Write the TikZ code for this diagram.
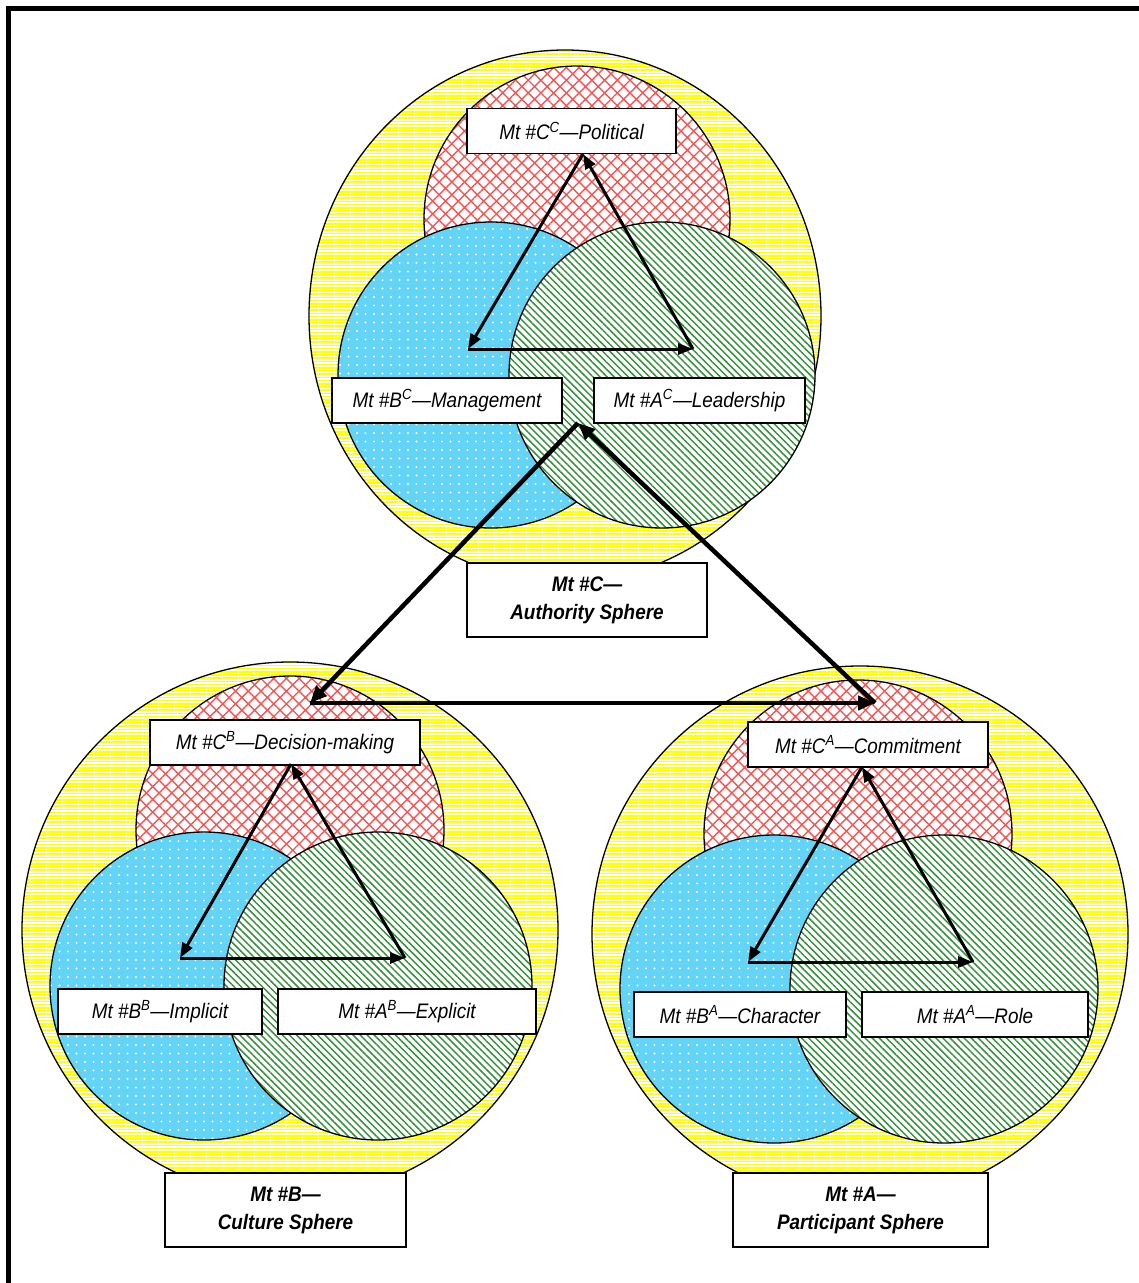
\documentclass[tikz,border=0pt]{standalone}
\usepackage{fontspec}
\setmainfont{Liberation Sans}[FakeStretch=0.9]
\usetikzlibrary{patterns.meta,arrows.meta}
\definecolor{hatchred}{RGB}{245,85,85}
\definecolor{skyfill}{RGB}{100,212,246}
\definecolor{stripegreen}{RGB}{55,145,60}
\definecolor{lineyellow}{RGB}{255,255,0}

\tikzset{
  yellowdisc/.style={draw=black, line width=1.3pt,
    preaction={fill=white},
    preaction={pattern={Lines[angle=0,distance=3.2pt,line width=1.6pt]}, pattern color=lineyellow}},
  reddisc/.style={draw=black, line width=1.3pt,
    preaction={fill=white},
    preaction={pattern={Hatch[angle=45,distance=9pt,line width=1.4pt]}, pattern color=hatchred}},
  bluedisc/.style={draw=black, line width=1.3pt,
    preaction={fill=skyfill},
    preaction={pattern={Dots[radius=1.1pt,distance=8.5pt]}, pattern color=white}},
  greendisc/.style={draw=black, line width=1.3pt,
    preaction={fill=white},
    preaction={pattern={Lines[angle=-45,distance=5pt,line width=1.5pt]}, pattern color=stripegreen}},
  lab/.style={draw, line width=1.3pt, fill=white, inner sep=0pt, minimum height=45pt,
    font=\fontsize{21}{25}\selectfont\itshape},
  spherelab/.style={draw, line width=1.3pt, fill=white, inner sep=0pt, minimum height=74pt,
    align=center, font=\fontsize{21}{28}\selectfont\bfseries\itshape},
  innerarrow/.style={line width=3pt, -{Triangle[length=15pt,width=11pt]}},
  outerarrow/.style={line width=4.5pt, -{Triangle[length=17pt,width=14pt]}},
}

\begin{document}
\begin{tikzpicture}[x=1pt,y=-1pt]
\useasboundingbox (0,0) rectangle (1139,1283);

% page frame (top and left edges)
\draw[line width=5pt, line join=miter] (8.5,1283) -- (8.5,8.5) -- (1139,8.5);

% ---- Mt #C : Authority sphere ----
\path[yellowdisc] (565,316) ellipse[x radius=256, y radius=266];
\path[reddisc]    (577,219) circle[radius=153];
\path[bluedisc]   (491,375) circle[radius=153];
\path[greendisc]  (662,375) circle[radius=153];

% ---- Mt #B : Culture sphere ----
\path[yellowdisc] (290,930) circle[radius=268];
\path[reddisc]    (290,830) circle[radius=154];
\path[bluedisc]   (204,986) circle[radius=154];
\path[greendisc]  (378,986) circle[radius=154];

% ---- Mt #A : Participant sphere ----
\path[yellowdisc] (860,934) circle[radius=268];
\path[reddisc]    (858,834) circle[radius=154];
\path[bluedisc]   (774,989) circle[radius=154];
\path[greendisc]  (944,989) circle[radius=154];

% labels
\node[lab, minimum width=209pt] (pol)  at (571.5,131)   {Mt \#C\textsuperscript{C}\textemdash Political};
\node[lab, minimum width=230pt] (mgmt) at (447,400.5)   {Mt \#B\textsuperscript{C}\textemdash Management};
\node[lab, minimum width=211pt] (lead) at (699.5,400.5) {Mt \#A\textsuperscript{C}\textemdash Leadership};
\node[spherelab, minimum width=240pt] (auth) at (587,600) {Mt \#C\textemdash\\Authority Sphere};

\node[lab, minimum width=270pt] (dec)  at (285,742.5)   {Mt \#C\textsuperscript{B}\textemdash Decision-making};
\node[lab, minimum width=204pt] (impl) at (160,1011.5)  {Mt \#B\textsuperscript{B}\textemdash Implicit};
\node[lab, minimum width=258pt] (expl) at (407,1011.5)  {Mt \#A\textsuperscript{B}\textemdash Explicit};
\node[spherelab, minimum width=241pt] (cult) at (285.5,1210) {Mt \#B\textemdash\\Culture Sphere};

\node[lab, minimum width=240pt] (comm) at (868,744.5)   {Mt \#C\textsuperscript{A}\textemdash Commitment};
\node[lab, minimum width=212pt] (char) at (740,1014.5)  {Mt \#B\textsuperscript{A}\textemdash Character};
\node[lab, minimum width=226pt] (role) at (975,1014.5)  {Mt \#A\textsuperscript{A}\textemdash Role};
\node[spherelab, minimum width=255pt] (part) at (860.5,1210) {Mt \#A\textemdash\\Participant Sphere};

% triangle corners
\coordinate (cT) at (583,154);
\coordinate (cL) at (468,349);
\coordinate (cR) at (693,349);
\coordinate (bT) at (291,764);
\coordinate (bL) at (180,958);
\coordinate (bR) at (405,958);
\coordinate (aT) at (862,767);
\coordinate (aL) at (748,962);
\coordinate (aR) at (973,962);
\coordinate (oT) at (578,423);
\coordinate (oL) at (310,703);
\coordinate (oR) at (875,703);

% inner cycles
\draw[innerarrow] (cT) -- (cL);
\draw[innerarrow] (cL) -- (cR);
\draw[innerarrow] (cR) -- (cT);
\draw[innerarrow] (bT) -- (bL);
\draw[innerarrow] (bL) -- (bR);
\draw[innerarrow] (bR) -- (bT);
\draw[innerarrow] (aT) -- (aL);
\draw[innerarrow] (aL) -- (aR);
\draw[innerarrow] (aR) -- (aT);

% outer cycle between the spheres
\draw[outerarrow] (oT) -- (oL);
\draw[outerarrow] (oL) -- (oR);
\draw[outerarrow] (oR) -- (oT);
\end{tikzpicture}
\end{document}
